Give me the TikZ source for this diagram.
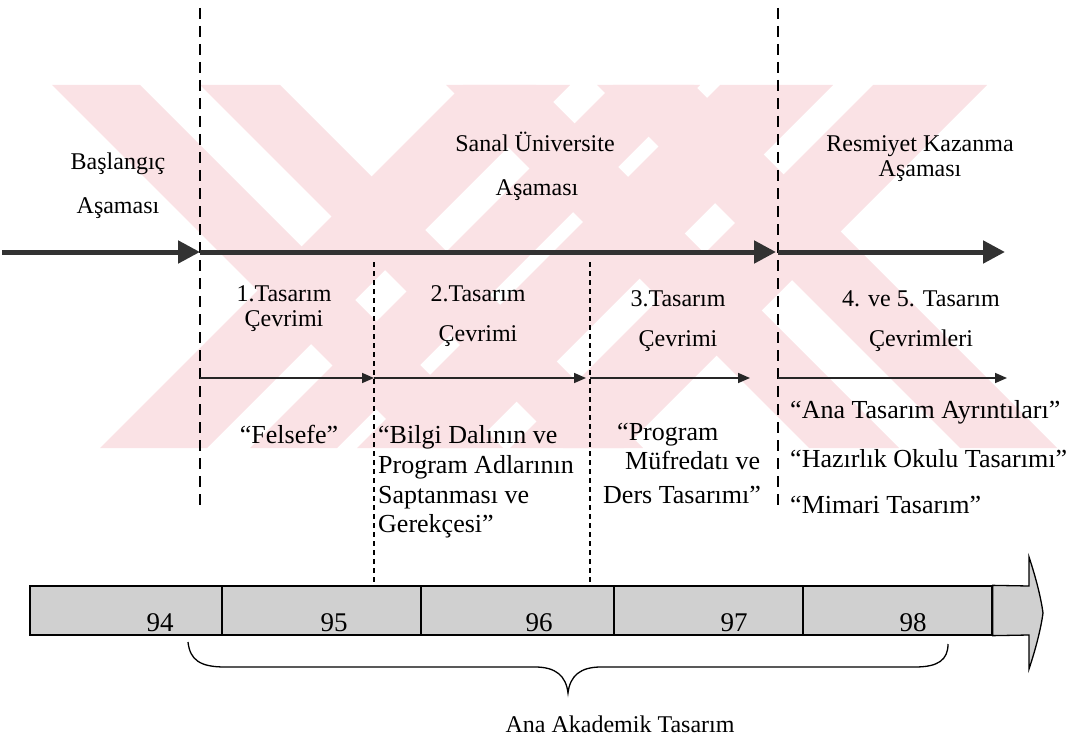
\documentclass[tikz,border=0pt]{standalone}
\usepackage{fontspec}
\setmainfont{Liberation Serif}
\usetikzlibrary{arrows.meta}

\definecolor{wmpink}{RGB}{250,226,229}
\definecolor{bargray}{RGB}{208,208,208}
\definecolor{axisgray}{RGB}{50,50,50}

\tikzset{
  lbl/.style={font=\fontsize{24}{28}\selectfont, inner sep=0pt, anchor=base},
  qtext/.style={font=\fontsize{26}{30}\selectfont, inner sep=0pt, anchor=base west},
  yearnum/.style={font=\fontsize{27}{30}\selectfont, inner sep=0pt, anchor=base},
  phaseline/.style={draw=black, line width=2pt, dash pattern=on 11pt off 7pt},
  cycleline/.style={draw=black, line width=1.2pt, dash pattern=on 5pt off 4pt},
  mainarrow/.style={draw=axisgray, line width=5pt, -{Triangle[length=22pt,width=22pt]}},
  subarrow/.style={draw=black!85, line width=1.6pt, -{Triangle[length=12pt,width=10pt]}},
  yearcell/.style={draw=black, line width=1.3pt, fill=bargray, minimum height=49pt, inner sep=0pt},
  wm/.style={fill=wmpink, draw=none},
}

\begin{document}
\begin{tikzpicture}[x=1pt,y=-1pt]
\useasboundingbox (0,0) rectangle (1082,741);

% watermark bands
\begin{scope}
\clip (52,85) rectangle (1060,449);
% left cross
\fill[wm] (52,85) -- (140,85) -- (503,448) -- (415,448) -- cycle;
\fill[wm] (200,85) -- (280,85) -- (643,448) -- (563,448) -- cycle;
\fill[wm] (463,85) -- (570,85) -- (207,448) -- (100,448) -- cycle;
\fill[wm] (613,85) -- (700,85) -- (337,448) -- (250,448) -- cycle;
% right cross
\fill[wm] (720,85) -- (833,85) -- (470,448) -- (357,448) -- cycle;
\fill[wm] (873,85) -- (987,85) -- (624,448) -- (510,448) -- cycle;
\fill[wm] (597,85) -- (694,85) -- (1057,448) -- (960,448) -- cycle;
\fill[wm] (446,85) -- (536,85) -- (899,448) -- (809,448) -- cycle;
\end{scope}

% phase boundaries
\coordinate (p1top) at (200,8);  \coordinate (p1bot) at (200,505);
\coordinate (p4top) at (778,8);  \coordinate (p4bot) at (778,510);
\draw[phaseline] (p1top) -- (p1bot);
\draw[phaseline] (p4top) -- (p4bot);

% design cycle boundaries
\coordinate (c2top) at (374,262); \coordinate (c2bot) at (374,586);
\coordinate (c3top) at (590,262); \coordinate (c3bot) at (590,586);
\draw[cycleline] (c2top) -- (c2bot);
\draw[cycleline] (c3top) -- (c3bot);

% main time axis
\coordinate (a0) at (2,252);
\coordinate (a1) at (200,252);
\coordinate (a2) at (776,252);
\coordinate (a3) at (778,252);
\coordinate (a4) at (1005,252);
\draw[mainarrow] (a0) -- (a1);
\draw[mainarrow] (a1) -- (a2);
\draw[mainarrow] (a3) -- (a4);

% cycle arrows
\coordinate (b1) at (200,378);
\coordinate (b2) at (374,378);
\coordinate (b3) at (586,378);
\coordinate (b4) at (590,378);
\coordinate (b5) at (750,378);
\coordinate (b6) at (778,378);
\coordinate (b7) at (1007,378);
\draw[subarrow] (b1) -- (b2);
\draw[subarrow] (b2) -- (b3);
\draw[subarrow] (b4) -- (b5);
\draw[subarrow] (b6) -- (b7);

% phase titles
\node[lbl] (bas1) at (118,170) {Başlangıç};
\node[lbl] (bas2) at (118,213) {Aşaması};
\node[lbl] (san1) at (535,152) {Sanal Üniversite};
\node[lbl] (san2) at (537,195) {Aşaması};
\node[lbl] (res1) at (920,152) {Resmiyet Kazanma};
\node[lbl] (res2) at (920,177) {Aşaması};

% cycle titles
\node[lbl] (t1a) at (284,301) {1.Tasarım};
\node[lbl] (t1b) at (284,326) {Çevrimi};
\node[lbl] (t2a) at (478,301) {2.Tasarım};
\node[lbl] (t2b) at (478,341) {Çevrimi};
\node[lbl] (t3a) at (678,306) {3.Tasarım};
\node[lbl] (t3b) at (678,346) {Çevrimi};
\node[lbl] (t4a) at (921,306) {4. ve 5. Tasarım};
\node[lbl] (t4b) at (921,346) {Çevrimleri};

% cycle contents
\node[qtext, anchor=base] (fel) at (289,443) {“Felsefe”};
\node[qtext] (bil1) at (378,443) {“Bilgi Dalının ve};
\node[qtext] (bil2) at (378,473) {Program Adlarının};
\node[qtext] (bil3) at (378,503) {Saptanması ve};
\node[qtext] (bil4) at (378,532) {Gerekçesi”};
\node[qtext] (pro1) at (617,440) {“Program};
\node[qtext] (pro2) at (625,469) {Müfredatı ve};
\node[qtext] (pro3) at (603,503) {Ders Tasarımı”};
\node[qtext] (ana) at (790,418) {“Ana Tasarım Ayrıntıları”};
\node[qtext] (haz) at (790,467) {“Hazırlık Okulu Tasarımı”};
\node[qtext] (mim) at (790,513) {“Mimari Tasarım”};

% year bar
\node[yearcell, minimum width=192pt] (y94) at (126,610.5) {};
\node[yearcell, minimum width=199pt] (y95) at (321.5,610.5) {};
\node[yearcell, minimum width=193pt] (y96) at (517.5,610.5) {};
\node[yearcell, minimum width=189pt] (y97) at (708.5,610.5) {};
\node[yearcell, minimum width=189pt] (y98) at (897.5,610.5) {};
\draw[line width=1.3pt, fill=bargray] (y98.north east) -- (1029,586) -- (1029,557)
  .. controls (1036,578) and (1041,598) .. (1043,613)
  .. controls (1041,628) and (1036,648) .. (1029,669)
  -- (1029,635) -- (y98.south east) -- cycle;
\node[yearnum] (n94) at (160,631) {94};
\node[yearnum] (n95) at (334,631) {95};
\node[yearnum] (n96) at (539,631) {96};
\node[yearnum] (n97) at (734,631) {97};
\node[yearnum] (n98) at (913,631) {98};

% brace over the main academic design years
\coordinate (brL) at (188,642);
\coordinate (brR) at (948,644);
\draw[line width=1.3pt] (brL) .. controls (190,660) and (200,667) .. (225,667)
  -- (535,667) .. controls (556,667) and (566,676) .. (568,693)
  .. controls (570,676) and (580,667) .. (601,667)
  -- (915,667) .. controls (938,667) and (948,660) .. (brR);
\node[lbl] (aat) at (620,732) {Ana Akademik Tasarım};
\end{tikzpicture}
\end{document}
